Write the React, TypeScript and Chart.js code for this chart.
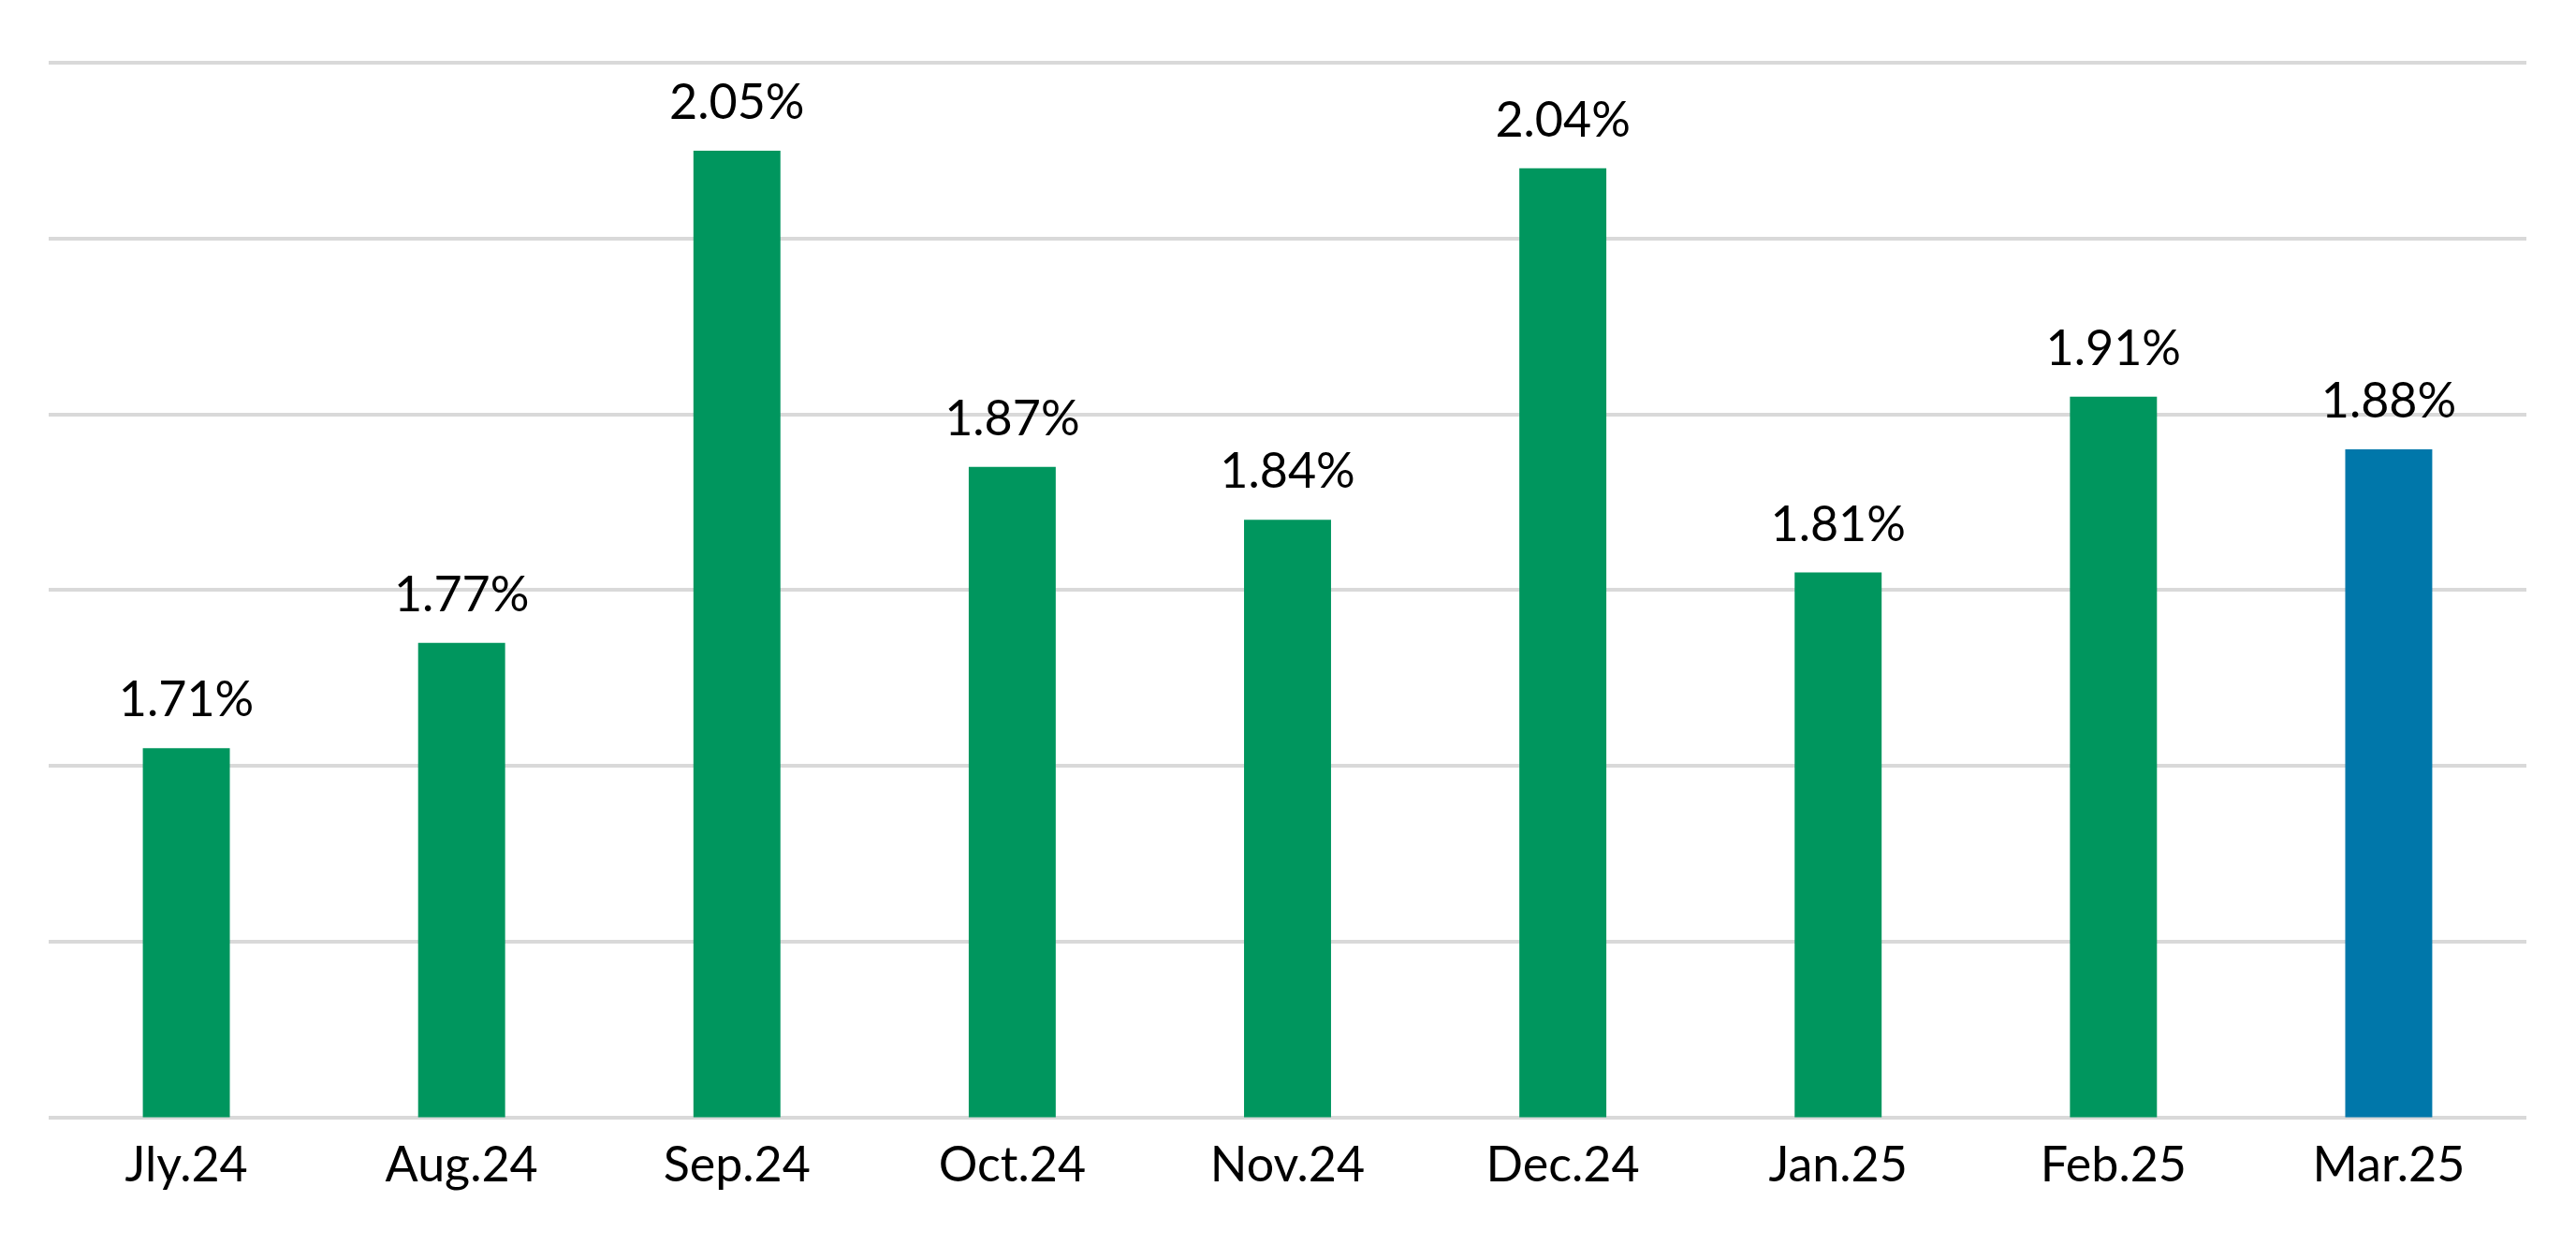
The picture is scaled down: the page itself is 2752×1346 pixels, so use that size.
import { useEffect, useRef } from "react";
import { Chart, registerables } from "chart.js";

Chart.register(...registerables);

const months = ["Jly.24", "Aug.24", "Sep.24", "Oct.24", "Nov.24", "Dec.24", "Jan.25", "Feb.25", "Mar.25"];
const rates = [1.71, 1.77, 2.05, 1.87, 1.84, 2.04, 1.81, 1.91, 1.88];
const barColors = ["#00965E", "#00965E", "#00965E", "#00965E", "#00965E", "#00965E", "#00965E", "#00965E", "#0077AA"];

const yMin = 1.5;
const yMax = 2.1;
const yStep = 0.1;

const FONT = "Lato, 'Open Sans', sans-serif";

// draws the "1.71%" labels above each bar
const valueLabels = {
  id: "valueLabels",
  afterDatasetsDraw(chart: Chart) {
    const { ctx } = chart;
    const meta = chart.getDatasetMeta(0);
    ctx.save();
    ctx.font = `52px ${FONT}`;
    ctx.fillStyle = "#000000";
    ctx.textAlign = "center";
    ctx.textBaseline = "alphabetic";
    meta.data.forEach((bar: any, i: number) => {
      ctx.fillText(rates[i].toFixed(2) + "%", bar.x, bar.y - 34);
    });
    ctx.restore();
  }
};

export default function App() {
  const canvasRef = useRef<HTMLCanvasElement | null>(null);

  useEffect(() => {
    document.body.style.margin = "0";
    if (!canvasRef.current) return;
    const ctx = canvasRef.current.getContext("2d");
    if (!ctx) return;

    const chart = new Chart(ctx, {
      type: "bar",
      data: {
        labels: months,
        datasets: [
          {
            data: rates,
            backgroundColor: barColors,
            borderWidth: 0,
            categoryPercentage: 1,
            barPercentage: 0.316
          }
        ]
      },
      options: {
        animation: false,
        responsive: true,
        maintainAspectRatio: false,
        devicePixelRatio: 1,
        layout: { padding: { left: 52, right: 53, top: 67, bottom: 58 } },
        plugins: {
          legend: { display: false },
          tooltip: { enabled: false }
        },
        scales: {
          x: {
            grid: { display: false },
            border: { display: false },
            ticks: {
              color: "#000000",
              padding: 12,
              font: { size: 52, family: FONT }
            }
          },
          y: {
            min: yMin,
            max: yMax,
            grid: { color: "#D9D9D9", lineWidth: 4, drawTicks: false },
            border: { display: false },
            ticks: { display: false, stepSize: yStep }
          }
        }
      },
      plugins: [valueLabels]
    });

    return () => chart.destroy();
  }, []);

  return (
    <div style={{ position: "absolute", left: 0, top: 0, width: 2752, height: 1346, background: "#ffffff" }}>
      <canvas ref={canvasRef} />
    </div>
  );
}
